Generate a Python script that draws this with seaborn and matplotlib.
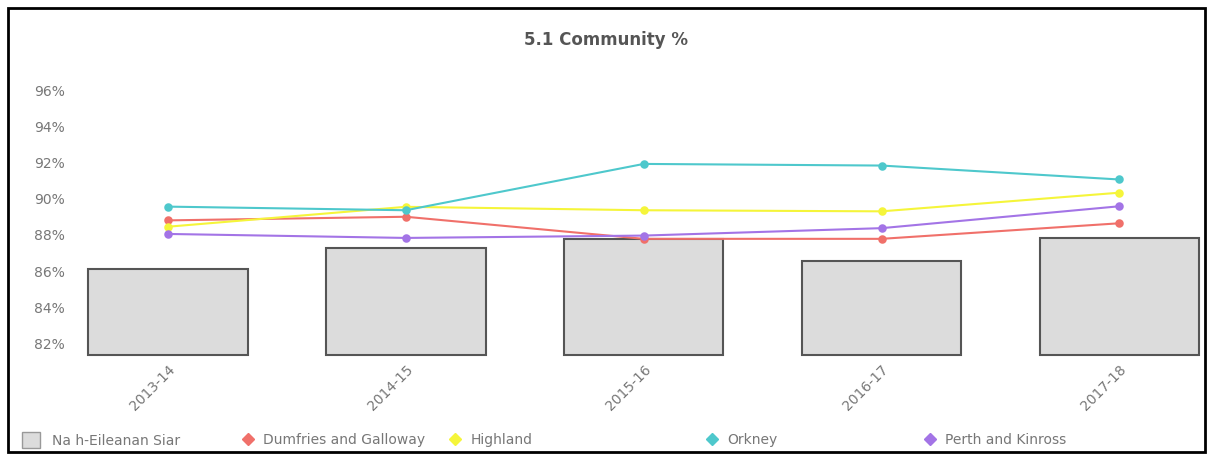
import matplotlib
matplotlib.use("Agg")
import matplotlib.pyplot as plt
import seaborn as sns
import pandas as pd
from matplotlib.lines import Line2D
from matplotlib.patches import Patch, Rectangle

# data (%)
years = ["2013-14", "2014-15", "2015-16", "2016-17", "2017-18"]
siar = [86.1, 87.3, 87.75, 86.55, 87.8]
dumfries = [88.8, 89.0, 87.78, 87.78, 88.64]
highland = [88.45, 89.55, 89.36, 89.3, 90.33]
orkney = [89.56, 89.36, 91.92, 91.83, 91.06]
perth = [88.05, 87.83, 87.96, 88.37, 89.58]

series = ["Dumfries and Galloway", "Highland", "Orkney", "Perth and Kinross"]
colors = ["#f0706a", "#f5f53a", "#4ec8cc", "#a374e6"]

sns.set_theme(style="white")
plt.rcParams['font.family'] = ['DejaVu Sans']

lines = pd.DataFrame({
    "year": years * 4,
    "value": dumfries + highland + orkney + perth,
    "area": sum([[s] * len(years) for s in series], []),
})
bars = pd.DataFrame({"year": years, "value": siar})

ymin = 81.35

fig = plt.figure(figsize=(12.13, 4.61), dpi=100)
ax = fig.add_axes([80 / 1213, 104 / 461, 1125 / 1213, 285 / 461])

sns.barplot(data=bars, x="year", y="value", color="#dcdcdc", width=0.67,
            edgecolor="#555555", linewidth=1.5, ax=ax)
# start the bars at the axis floor so the box is closed
for p in ax.patches:
    top = p.get_y() + p.get_height()
    p.set_y(ymin)
    p.set_height(top - ymin)

sns.pointplot(data=lines, x="year", y="value", hue="area", palette=colors,
              markers="o", markersize=5, linewidth=1.5, ax=ax, legend=False)

ax.set_ylim(ymin - 0.1, 97)
ax.set_xlim(-0.37, 4.36)
ax.set_yticks([82, 84, 86, 88, 90, 92, 94, 96])
ax.set_yticklabels([f"{v}%" for v in [82, 84, 86, 88, 90, 92, 94, 96]],
                   color="#777777", fontsize=10)
ax.tick_params(axis="y", length=0, pad=11)
ax.tick_params(axis="x", length=0, pad=4)
for lab in ax.get_xticklabels():
    lab.set_rotation(45)
    lab.set_ha("right")
    lab.set_rotation_mode("anchor")
    lab.set_color("#777777")
    lab.set_fontsize(10)
ax.set_xlabel("")
ax.set_ylabel("")
sns.despine(ax=ax, left=True, bottom=True)

fig.text(0.5, 1 - 40 / 461, "5.1 Community %", ha="center", va="center",
         fontsize=12, fontweight="bold", color="#555555")

# legend entries placed one by one like the original
handles = [Patch(facecolor="#dcdcdc", edgecolor="#999999")]
handles += [Line2D([], [], color=c, marker="D", markersize=6, linestyle="")
            for c in colors]
labels = ["Na h-Eileanan Siar"] + series
xs = [22, 241, 448, 705, 923]
for i, (h, l, x) in enumerate(zip(handles, labels, xs)):
    fig.legend([h], [l], loc="center left", bbox_to_anchor=(x / 1213, 1 - 440 / 461),
               frameon=False, fontsize=10, labelcolor="#777777",
               handlelength=1.3 if i == 0 else 1.0,
               handleheight=1.3 if i == 0 else 0.7,
               handletextpad=0.86 if i == 0 else 0.6,
               borderpad=0, borderaxespad=0)

fig.patches.append(Rectangle((8 / 1213, 9 / 461), 1197 / 1213, 444 / 461,
                             transform=fig.transFigure, fill=False,
                             edgecolor="black", linewidth=2))

fig.savefig("out.png", dpi=100)
